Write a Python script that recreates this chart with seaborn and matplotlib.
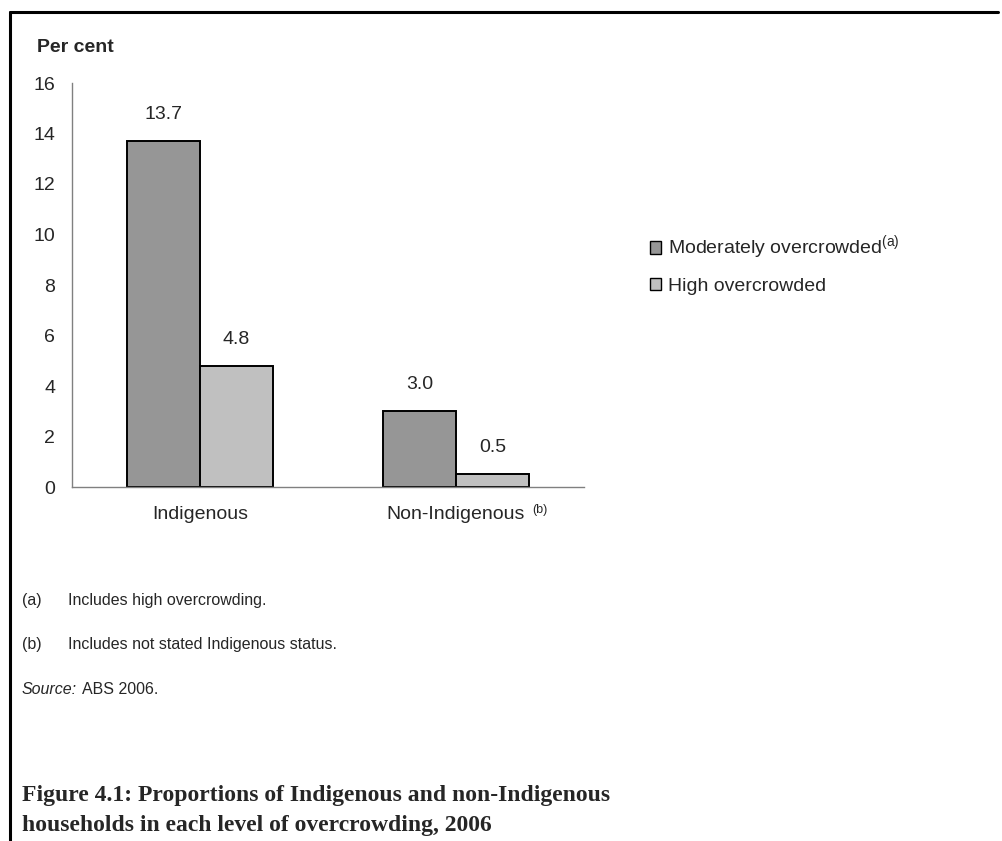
import pandas as pd
import matplotlib
matplotlib.use("Agg")
import matplotlib.pyplot as plt
from matplotlib.lines import Line2D
import seaborn as sns

# Datos
categorias = ["Indigenous", "Non-Indigenous"]
series = ["Moderately overcrowded", "High overcrowded"]
moderado = [13.7, 3.0]
alto = [4.8, 0.5]
etiquetas_y = [0, 2, 4, 6, 8, 10, 12, 14, 16]

df = pd.DataFrame({
    "grupo": categorias * 2,
    "nivel": [series[0]] * 2 + [series[1]] * 2,
    "valor": moderado + alto,
})

sns.set_style("white")
plt.rcParams["font.family"] = ["Liberation Sans", "DejaVu Sans"]

colores = {series[0]: "#969696", series[1]: "#c0c0c0"}

fig = plt.figure(figsize=(10.02, 8.41), dpi=100)
ax = fig.add_axes([72 / 1002, 1 - 487 / 841, (584 - 72) / 1002, (487 - 83) / 841])

sns.barplot(data=df, x="grupo", y="valor", hue="nivel", palette=colores,
            width=0.57, edgecolor="black", linewidth=1.4, ax=ax, legend=False)

# Etiquetas de valor
for cont in ax.containers:
    for barra in cont:
        h = barra.get_height()
        ax.annotate(f"{h:.1f}", (barra.get_x() + barra.get_width() / 2, h),
                    xytext=(0, 13), textcoords="offset points",
                    ha="center", va="bottom", fontsize=14)

ax.set_xlim(-0.5, 1.5)
ax.set_ylim(0, 16)
ax.set_yticks(etiquetas_y)
ax.set_yticklabels([str(v) for v in etiquetas_y], fontsize=14)
ax.set_xticks([0.5, 1.5])
ax.set_xticklabels([])
ax.set_xticks([0, 1], minor=True)
ax.set_xticklabels(categorias, minor=True, fontsize=14)
ax.tick_params(axis="x", which="minor", length=0, pad=14)
ax.tick_params(axis="x", which="major", length=6, width=1, color="#808080", direction="out")
ax.tick_params(axis="y", length=5, width=1, color="#808080", direction="out", pad=7)
ax.set_xlabel("")
ax.set_ylabel("")

# superíndice (b)
ax.annotate("(b)", (1, 0), xycoords=("data", "axes fraction"), xytext=(55, -12),
            textcoords="offset points", fontsize=9, ha="left", va="top")

for lado in ["top", "right"]:
    ax.spines[lado].set_visible(False)
for lado in ["left", "bottom"]:
    ax.spines[lado].set_color("#808080")
    ax.spines[lado].set_linewidth(1)

# Leyenda
manijas = [plt.Rectangle((0, 0), 1, 1, facecolor=colores[s], edgecolor="black", linewidth=1)
           for s in series]
fig.legend(manijas, ["Moderately overcrowded$^{\\mathregular{(a)}}$", series[1]],
           loc="upper left", bbox_to_anchor=(642 / 1002, 1 - 226 / 841),
           frameon=False, fontsize=14, handlelength=0.6, handleheight=0.6,
           handletextpad=0.35, labelspacing=0.8, borderaxespad=0)

# Textos
fig.text(37 / 1002, 1 - 48 / 841, "Per cent", fontsize=14, fontweight="bold",
         ha="left", va="center")
fig.text(22 / 1002, 1 - 600 / 841, "(a)", fontsize=11.5, va="center")
fig.text(68 / 1002, 1 - 600 / 841, "Includes high overcrowding.", fontsize=11.5, va="center")
fig.text(22 / 1002, 1 - 645 / 841, "(b)", fontsize=11.5, va="center")
fig.text(68 / 1002, 1 - 645 / 841, "Includes not stated Indigenous status.", fontsize=11.5, va="center")
fig.text(22 / 1002, 1 - 690 / 841, "Source:", fontsize=11.5, style="italic", va="center")
fig.text(82 / 1002, 1 - 690 / 841, "ABS 2006.", fontsize=11.5, va="center")

fig.text(22 / 1002, 1 - 795 / 841, "Figure 4.1: Proportions of Indigenous and non-Indigenous",
         fontsize=17, fontweight="bold", family="Liberation Serif", va="center")
fig.text(22 / 1002, 1 - 825 / 841, "households in each level of overcrowding, 2006",
         fontsize=17, fontweight="bold", family="Liberation Serif", va="center")

# Marco
fig.add_artist(Line2D([10 / 1002, 998 / 1002], [1 - 12 / 841, 1 - 12 / 841],
                      color="black", linewidth=2.2, transform=fig.transFigure))
fig.add_artist(Line2D([10 / 1002, 10 / 1002], [1 - 12 / 841, 0],
                      color="black", linewidth=2.2, transform=fig.transFigure))

fig.savefig("out.png", dpi=100)
